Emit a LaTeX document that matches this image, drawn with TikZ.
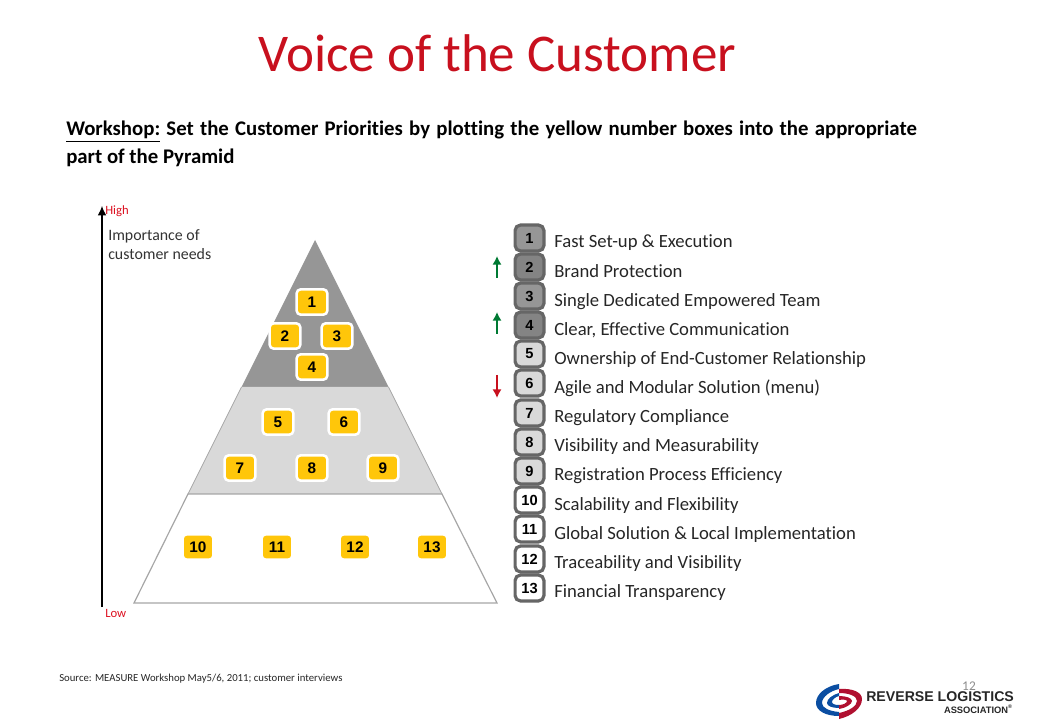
\documentclass[tikz,border=0pt]{standalone}
\usepackage{fontspec}
\setmainfont[Ligatures=NoCommon]{Carlito}
\newfontfamily\arialfont{Liberation Sans}
\definecolor{titlered}{HTML}{C8101E}
\definecolor{tagred}{HTML}{DC1020}
\definecolor{toptier}{HTML}{969696}
\definecolor{darktier}{HTML}{848484}
\definecolor{midtier}{HTML}{D9D9D9}
\definecolor{edgegray}{HTML}{A6A6A6}
\definecolor{boxgold}{HTML}{FFC60A}
\definecolor{listrim}{HTML}{666666}
\definecolor{upgreen}{HTML}{007A33}
\definecolor{downred}{HTML}{C8101E}
\definecolor{logoblue}{HTML}{0B4EA2}
\definecolor{logored}{HTML}{B01030}
\usetikzlibrary{arrows.meta}
\newcommand{\gap}{\hspace{0.3em}}
\tikzset{
  goldbox/.style={draw=white, line width=1.9pt, fill=boxgold, rounded corners=3pt, minimum width=23pt, minimum height=19pt, inner sep=0pt, font=\arialfont\bfseries\fontsize{11.5}{12}\selectfont},
  listbox/.style={draw=listrim, line width=2.4pt, rounded corners=4pt, minimum width=21.6pt, minimum height=19.4pt, inner sep=0pt, font=\arialfont\bfseries\fontsize{11}{12}\selectfont},
  listlabel/.style={anchor=base west, inner sep=0pt, text=black!85, font=\fontsize{14}{15}\selectfont},
  redtag/.style={anchor=base west, inner sep=0pt, text=tagred, font=\fontsize{9.5}{10}\selectfont},
  axisnote/.style={anchor=base west, inner sep=0pt, text=black!80, font=\fontsize{11.9}{14}\selectfont},
  headline/.style={anchor=base west, inner sep=0pt, font=\bfseries\fontsize{15.6}{17}\selectfont},
  changeup/.style={-{Latex[length=6.5pt,width=7pt]}, line width=1.5pt, upgreen},
  changedown/.style={-{Latex[length=6.5pt,width=7pt]}, line width=1.5pt, downred}
}
\begin{document}
\begin{tikzpicture}[x=0.75pt,y=-0.75pt]

\useasboundingbox (0,0) rectangle (1040,720);

\coordinate (Apex) at (315,240);
\coordinate (TopL) at (241.5,387);
\coordinate (TopR) at (388.5,387);
\coordinate (MidL) at (188,494);
\coordinate (MidR) at (442,494);
\coordinate (BaseL) at (134,603);
\coordinate (BaseR) at (497,603);
\coordinate (AxisLow) at (102,607);
\coordinate (AxisHigh) at (102,206);

% pyramid
\fill [toptier] (Apex)--(TopR)--(TopL)--cycle;
\fill [midtier] (TopL)--(TopR)--(MidR)--(MidL)--cycle;
\draw [edgegray, line width=0.9pt] (MidL)--(BaseL)--(BaseR)--(MidR)--cycle;
\draw [edgegray, line width=0.6pt] (TopL)--(MidL) (TopR)--(MidR);

\draw [-{Latex[length=7pt,width=6.5pt]}, line width=0.9pt] (AxisLow)--(AxisHigh);

% heading
\node [anchor=base west, inner sep=0pt, text=titlered, font=\fontsize{39.8}{42}\selectfont] (title) at (258,72) {Voice of the Customer};
\node [headline] (workshopA) at (66,136) {\underline{Workshop:}\gap Set\gap the\gap Customer\gap Priorities\gap by\gap plotting\gap the\gap yellow\gap number\gap boxes\gap into\gap the\gap appropriate};
\node [headline] (workshopB) at (66,164) {part of the Pyramid};

\node [redtag] (high) at (105,215) {High};
\node [redtag] (low) at (105,617) {Low};
\node [axisnote] (axisA) at (108,241) {Importance of};
\node [axisnote] (axisB) at (108,260) {customer needs};

% boxes on the pyramid
\node [goldbox] (p1) at (312,302) {1};
\node [goldbox] (p2) at (285,336) {2};
\node [goldbox] (p3) at (337,336) {3};
\node [goldbox] (p4) at (312,367) {4};
\node [goldbox] (p5) at (278,422) {5};
\node [goldbox] (p6) at (344,422) {6};
\node [goldbox] (p7) at (240,468) {7};
\node [goldbox] (p8) at (312,468) {8};
\node [goldbox] (p9) at (383,468) {9};
\node [goldbox] (p10) at (198,547) {10};
\node [goldbox] (p11) at (277,547) {11};
\node [goldbox] (p12) at (355,547) {12};
\node [goldbox] (p13) at (432,547) {13};

% list
\node [listbox, fill=toptier] (n1) at (529.5,238) {1};
\node [listbox, fill=darktier] (n2) at (529.5,267) {2};
\node [listbox, fill=toptier] (n3) at (529.5,296) {3};
\node [listbox, fill=darktier] (n4) at (529.5,325) {4};
\node [listbox, fill=midtier] (n5) at (529.5,354) {5};
\node [listbox, fill=midtier] (n6) at (529.5,383) {6};
\node [listbox, fill=midtier] (n7) at (529.5,413) {7};
\node [listbox, fill=midtier] (n8) at (529.5,442) {8};
\node [listbox, fill=midtier] (n9) at (529.5,471) {9};
\node [listbox, fill=white] (n10) at (529.5,500) {10};
\node [listbox, fill=white] (n11) at (529.5,529) {11};
\node [listbox, fill=white] (n12) at (529.5,559) {12};
\node [listbox, fill=white] (n13) at (529.5,588) {13};

\node [listlabel] (t1) at (554,248) {Fast Set-up \& Execution};
\node [listlabel] (t2) at (554,278) {Brand Protection};
\node [listlabel] (t3) at (554,307) {Single Dedicated Empowered Team};
\node [listlabel] (t4) at (554,336) {Clear, Effective Communication};
\node [listlabel] (t5) at (554,365) {Ownership of End-Customer Relationship};
\node [listlabel] (t6) at (554,394) {Agile and Modular Solution (menu)};
\node [listlabel] (t7) at (554,423) {Regulatory Compliance};
\node [listlabel] (t8) at (554,452) {Visibility and Measurability};
\node [listlabel] (t9) at (554,481) {Registration Process Efficiency};
\node [listlabel] (t10) at (554,510) {Scalability and Flexibility};
\node [listlabel] (t11) at (554,539) {Global Solution \& Local Implementation};
\node [listlabel] (t12) at (554,568) {Traceability and Visibility};
\node [listlabel] (t13) at (554,597) {Financial Transparency};

% changes
\coordinate (Up2a) at (497,278);
\coordinate (Up2b) at (497,256);
\coordinate (Up4a) at (497,334);
\coordinate (Up4b) at (497,312);
\coordinate (Down6a) at (497,375);
\coordinate (Down6b) at (497,398);
\draw [changeup] (Up2a)--(Up2b);
\draw [changeup] (Up4a)--(Up4b);
\draw [changedown] (Down6a)--(Down6b);

% footer
\node [anchor=base west, inner sep=0pt, text=black!85, font=\fontsize{8.05}{9}\selectfont] (source) at (59,681) {Source: MEASURE Workshop May5/6, 2011; customer interviews};
\node [anchor=base, inner sep=0pt, text=black!45, font=\fontsize{10}{12}\selectfont] (page) at (969,690) {12};

% logo
\fill [logoblue] (839,684) .. controls (826,686) and (816,694) .. (816,703) .. controls (816,711) and (826,716) .. (839,716) -- (839,712) .. controls (829,711) and (822,708) .. (822,703) .. controls (822,697) and (830,691) .. (839,689) -- cycle;
\fill [logoblue] (839,693) .. controls (832,695) and (827,699) .. (827,703) .. controls (827,706) and (832,708) .. (839,708) -- (839,705) .. controls (835,705) and (832,704) .. (832,702) .. controls (832,700) and (835,697) .. (839,696) -- cycle;
\fill [logored] (839,689) .. controls (852,688) and (862,692) .. (862,699) .. controls (862,708) and (852,716) .. (839,719) -- (839,713) .. controls (849,711) and (857,706) .. (857,701) .. controls (857,696) and (849,693) .. (839,693) -- cycle;
\fill [logored] (839,696) .. controls (846,696) and (852,698) .. (852,701) .. controls (852,704) and (846,708) .. (839,709) -- (839,705) .. controls (843,705) and (847,703) .. (847,701) .. controls (847,700) and (843,699) .. (839,700) -- cycle;
\node [anchor=base west, inner sep=0pt, text=black!85, font=\arialfont\bfseries\fontsize{10.6}{14}\selectfont] (logoA) at (866,701) {REVERSE LOGISTICS};
\node [anchor=base east, inner sep=0pt, text=black!85, font=\arialfont\bfseries\fontsize{7}{8}\selectfont] (logoB) at (1013,713) {ASSOCIATION\textsuperscript{\fontsize{4}{4}\selectfont\textregistered}};

\end{tikzpicture}
\end{document}
